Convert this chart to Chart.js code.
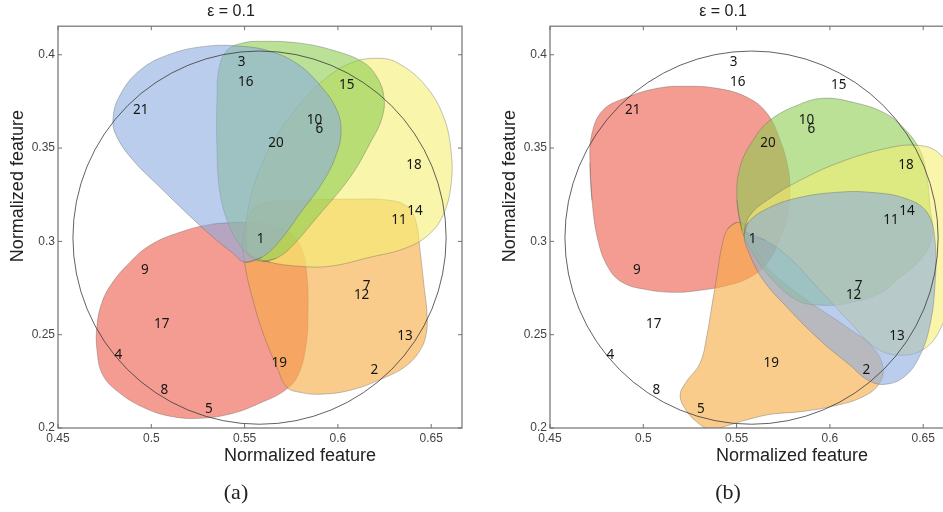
<!DOCTYPE html>
<html>
<head>
<meta charset="utf-8">
<script src="https://cdn.jsdelivr.net/npm/chart.js@4.4.1/dist/chart.umd.min.js"></script>
<style>
html, body { margin: 0; padding: 0; background: #fff; overflow: hidden; }
#wrap { position: relative; width: 943px; height: 512px; overflow: hidden; }
canvas { position: absolute; top: 0; }
#chartA { left: 0; }
#chartB { left: 492px; }
</style>
</head>
<body>
<div id="wrap">
  <canvas id="chartA" width="586" height="512"></canvas>
  <canvas id="chartB" width="584" height="512"></canvas>
</div>
<script>
// axis ticks
var xTicks = [0.45, 0.5, 0.55, 0.6, 0.65];
var xTickLabels = ['0.45', '0.5', '0.55', '0.6', '0.65'];
var yTicks = [0.2, 0.25, 0.3, 0.35, 0.4];
var yTickLabels = ['0.2', '0.25', '0.3', '0.35', '0.4'];

// numbered samples (same in both panels)
var pointNames = ['1','2','3','4','5','6','7','8','9','10','11','12','13','14','15','16','17','18','19','20','21'];
var pointX = [0.5586, 0.6195, 0.5484, 0.4823, 0.5309, 0.5900, 0.6154, 0.5070, 0.4966, 0.5874, 0.6327,
              0.6127, 0.6360, 0.6413, 0.6047, 0.5506, 0.5056, 0.6408, 0.5686, 0.5668, 0.4943];
var pointY = [0.3011, 0.2309, 0.3962, 0.2390, 0.2100, 0.3599, 0.2759, 0.2202, 0.2845, 0.3649, 0.3113,
              0.2711, 0.2491, 0.3161, 0.3837, 0.3854, 0.2556, 0.3408, 0.2345, 0.3524, 0.3703];

// reference circle
var circleCenter = [0.558, 0.302];
var circleRadius = 0.1;

// cluster outlines, panel (a)
var blueA = [[0.5502,0.2888],[0.5438,0.2936],[0.5331,0.3022],[0.5191,0.3150],[0.5047,0.3290],[0.4902,0.3435],
  [0.4811,0.3569],[0.4795,0.3660],[0.4832,0.3783],[0.4939,0.3917],[0.5100,0.4003],[0.5298,0.4046],[0.5475,0.4046],
  [0.5636,0.4019],[0.5786,0.3949],[0.5904,0.3837],[0.5990,0.3713],[0.6017,0.3595],[0.5990,0.3461],[0.5915,0.3311],
  [0.5797,0.3150],[0.5690,0.3005],[0.5593,0.2915]];
var greenA = [[0.5599,0.2893],[0.5529,0.2920],[0.5475,0.2979],[0.5416,0.3086],[0.5368,0.3258],[0.5352,0.3488],
  [0.5352,0.3756],[0.5363,0.3928],[0.5406,0.4024],[0.5486,0.4062],[0.5593,0.4072],[0.5797,0.4062],[0.5974,0.4024],
  [0.6135,0.3960],[0.6210,0.3879],[0.6247,0.3772],[0.6236,0.3660],[0.6172,0.3526],[0.6065,0.3343],[0.5888,0.3129],
  [0.5743,0.2963],[0.5668,0.2909]];
var yellowA = [[0.5529,0.2925],[0.5508,0.3059],[0.5529,0.3220],[0.5583,0.3392],[0.5663,0.3553],[0.5770,0.3703],
  [0.5904,0.3847],[0.6065,0.3954],[0.6226,0.3981],[0.6333,0.3949],[0.6467,0.3837],[0.6563,0.3676],[0.6606,0.3488],
  [0.6606,0.3301],[0.6563,0.3140],[0.6483,0.3033],[0.6360,0.2963],[0.6172,0.2915],[0.5958,0.2867],[0.5786,0.2867],
  [0.5636,0.2888]];
var orangeA = [[0.5593,0.3204],[0.5797,0.3220],[0.6065,0.3226],[0.6279,0.3220],[0.6376,0.3183],[0.6419,0.3102],
  [0.6440,0.2952],[0.6461,0.2765],[0.6478,0.2604],[0.6472,0.2497],[0.6440,0.2416],[0.6370,0.2336],[0.6242,0.2266],
  [0.6065,0.2202],[0.5904,0.2181],[0.5797,0.2191],[0.5727,0.2218],[0.5674,0.2325],[0.5599,0.2508],[0.5545,0.2684],
  [0.5502,0.2872],[0.5491,0.3006],[0.5508,0.3102],[0.5540,0.3167]];
var redA = [[0.5491,0.3102],[0.5636,0.3092],[0.5743,0.3049],[0.5808,0.2952],[0.5834,0.2818],[0.5840,0.2631],
  [0.5829,0.2443],[0.5786,0.2282],[0.5717,0.2202],[0.5593,0.2138],[0.5438,0.2079],[0.5261,0.2052],[0.5100,0.2063],
  [0.4956,0.2111],[0.4832,0.2186],[0.4741,0.2282],[0.4709,0.2416],[0.4709,0.2550],[0.4736,0.2674],[0.4789,0.2775],
  [0.4870,0.2872],[0.4993,0.2979],[0.5154,0.3049],[0.5325,0.3092]];

// cluster outlines, panel (b)
var blueB = [[0.5561,0.3102],[0.5679,0.3183],[0.5840,0.3236],[0.6038,0.3263],[0.6215,0.3263],[0.6402,0.3231],
  [0.6520,0.3156],[0.6563,0.3006],[0.6563,0.2765],[0.6536,0.2550],[0.6483,0.2390],[0.6402,0.2277],[0.6295,0.2234],
  [0.6204,0.2256],[0.6108,0.2336],[0.5947,0.2470],[0.5770,0.2647],[0.5636,0.2802],[0.5561,0.2952],[0.5540,0.3033]];
var greenB = [[0.5502,0.3220],[0.5518,0.3397],[0.5588,0.3542],[0.5679,0.3649],[0.5824,0.3729],[0.5963,0.3767],
  [0.6124,0.3745],[0.6285,0.3692],[0.6392,0.3611],[0.6483,0.3488],[0.6520,0.3343],[0.6536,0.3193],[0.6547,0.3022],
  [0.6483,0.2899],[0.6376,0.2808],[0.6268,0.2722],[0.6092,0.2668],[0.5947,0.2658],[0.5824,0.2684],[0.5695,0.2792],
  [0.5588,0.2936],[0.5529,0.3059]];
var yellowB = [[0.5550,0.3049],[0.5572,0.3140],[0.5679,0.3231],[0.5840,0.3327],[0.6054,0.3424],[0.6306,0.3499],
  [0.6467,0.3515],[0.6579,0.3477],[0.6654,0.3354],[0.6681,0.3059],[0.6654,0.2738],[0.6601,0.2550],[0.6510,0.2427],
  [0.6376,0.2390],[0.6242,0.2432],[0.6108,0.2566],[0.5947,0.2738],[0.5786,0.2909],[0.5652,0.3006]];
var orangeB = [[0.5502,0.3102],[0.5561,0.3070],[0.5588,0.2979],[0.5679,0.2845],[0.5856,0.2700],[0.6092,0.2540],
  [0.6231,0.2432],[0.6285,0.2320],[0.6258,0.2229],[0.6172,0.2165],[0.6038,0.2122],[0.5856,0.2089],[0.5679,0.2073],
  [0.5545,0.2041],[0.5438,0.2009],[0.5357,0.1993],[0.5288,0.2031],[0.5229,0.2095],[0.5197,0.2175],[0.5229,0.2245],
  [0.5304,0.2347],[0.5341,0.2497],[0.5368,0.2658],[0.5395,0.2818],[0.5422,0.2979],[0.5454,0.3070]];
var redB = [[0.4714,0.3419],[0.4725,0.3579],[0.4784,0.3703],[0.4913,0.3772],[0.5073,0.3820],[0.5213,0.3831],
  [0.5395,0.3820],[0.5556,0.3772],[0.5663,0.3686],[0.5733,0.3542],[0.5775,0.3397],[0.5786,0.3274],[0.5775,0.3151],
  [0.5733,0.3017],[0.5668,0.2888],[0.5572,0.2808],[0.5454,0.2765],[0.5304,0.2738],[0.5170,0.2727],[0.5009,0.2743],
  [0.4886,0.2781],[0.4811,0.2861],[0.4757,0.3006],[0.4725,0.3220]];

var colors = {
  blue: 'rgba(140,172,224,0.6)',
  green: 'rgba(140,205,80,0.6)',
  yellow: 'rgba(245,238,115,0.6)',
  orange: 'rgba(247,172,70,0.62)',
  red: 'rgba(238,96,78,0.62)'
};

Chart.defaults.font.family = '"Liberation Sans", Arial, sans-serif';

function toXY(arr) {
  return arr.map(function (p) { return {x: p[0], y: p[1]}; });
}

// repeat the last point in front and the first at the end so the curve closes smoothly
function closed(arr) {
  var pts = toXY(arr);
  return [pts[pts.length - 1]].concat(pts, [pts[0]]);
}

function blob(arr, color, order) {
  return {
    data: closed(arr),
    backgroundColor: color,
    borderColor: 'rgba(90,90,90,0.45)',
    borderWidth: 0.8,
    fill: 'shape',
    tension: 0.4,
    pointRadius: 0,
    order: order
  };
}

var decor = {
  id: 'decor',
  afterDatasetsDraw: function (chart, args, opts) {
    var ctx = chart.ctx, a = chart.chartArea, x = chart.scales.x, y = chart.scales.y;
    ctx.save();
    ctx.strokeStyle = '#707070';
    ctx.lineWidth = 1.2;
    ctx.strokeRect(a.left, a.top, a.right - a.left, a.bottom - a.top);
    ctx.lineWidth = 1;
    ctx.beginPath();
    x.ticks.forEach(function (t) {
      var px = x.getPixelForValue(t.value);
      ctx.moveTo(px, a.bottom); ctx.lineTo(px, a.bottom - 4);
      ctx.moveTo(px, a.top); ctx.lineTo(px, a.top + 4);
    });
    y.ticks.forEach(function (t) {
      var py = y.getPixelForValue(t.value);
      ctx.moveTo(a.left, py); ctx.lineTo(a.left + 4, py);
      ctx.moveTo(a.right, py); ctx.lineTo(a.right - 4, py);
    });
    ctx.stroke();

    // sample numbers
    ctx.fillStyle = '#161616';
    ctx.font = '13.5px "Noto Sans", "Open Sans", sans-serif';
    ctx.textAlign = 'center';
    ctx.textBaseline = 'middle';
    chart.getDatasetMeta(0).data.forEach(function (pt, i) {
      ctx.fillText(pointNames[i], pt.x, pt.y);
    });

    // axis titles and panel letter
    var cx = (a.left + a.right) / 2, cy = (a.top + a.bottom) / 2;
    ctx.fillStyle = '#222';
    ctx.font = '18px "Liberation Sans", Arial, sans-serif';
    ctx.fillText('Normalized feature', cx + 40, a.bottom + 28);
    ctx.save();
    ctx.translate(a.left - 40, cy - 41);
    ctx.rotate(-Math.PI / 2);
    ctx.fillText('Normalized feature', 0, 0);
    ctx.restore();
    ctx.font = '22px "Liberation Serif", "Times New Roman", serif';
    ctx.fillText(opts.letter, cx - 24, a.bottom + 65);
    ctx.restore();
  }
};

function makePanel(id, blobs, letter, padRight) {
  var datasets = [
    {
      data: pointX.map(function (v, i) { return {x: v, y: pointY[i]}; }),
      showLine: false,
      pointRadius: 0,
      order: 0
    },
    {
      data: [{x: circleCenter[0], y: circleCenter[1]}],
      showLine: false,
      pointRadius: function (c) {
        var s = c.chart.scales.x;
        return s.getPixelForValue(circleCenter[0] + circleRadius) - s.getPixelForValue(circleCenter[0]);
      },
      pointBackgroundColor: 'rgba(0,0,0,0)',
      pointBorderColor: '#3a3a3a',
      pointBorderWidth: 0.8,
      order: 1
    }
  ].concat(blobs);

  return new Chart(document.getElementById(id), {
    type: 'line',
    data: {datasets: datasets},
    options: {
      responsive: false,
      devicePixelRatio: 1,
      animation: false,
      events: [],
      layout: {padding: {left: 0, right: padRight, top: 0, bottom: 0}},
      elements: {line: {capBezierPoints: false}},
      scales: {
        x: {
          type: 'linear',
          min: 0.45,
          max: 0.6665,
          afterBuildTicks: function (s) { s.ticks = xTicks.map(function (v) { return {value: v}; }); },
          afterFit: function (s) { s.height = 84; },
          grid: {display: false, drawTicks: false},
          border: {display: false},
          ticks: {
            padding: 3,
            color: '#444',
            font: {size: 12},
            maxRotation: 0,
            autoSkip: false,
            callback: function (v, i) { return xTickLabels[i]; }
          }
        },
        y: {
          type: 'linear',
          min: 0.2,
          max: 0.4153,
          afterBuildTicks: function (s) { s.ticks = yTicks.map(function (v) { return {value: v}; }); },
          afterFit: function (s) { s.width = 58; },
          grid: {display: false, drawTicks: false},
          border: {display: false},
          ticks: {
            padding: 3,
            color: '#444',
            font: {size: 12},
            autoSkip: false,
            callback: function (v, i) { return yTickLabels[i]; }
          }
        }
      },
      plugins: {
        legend: {display: false},
        tooltip: {enabled: false},
        title: {
          display: true,
          text: 'ε = 0.1',
          color: '#222',
          font: {size: 16, weight: 'normal'},
          padding: {top: 2, bottom: 5}
        },
        decor: {letter: letter}
      }
    },
    plugins: [decor]
  });
}

makePanel('chartA', [
  blob(blueA, colors.blue, 2),
  blob(greenA, colors.green, 3),
  blob(yellowA, colors.yellow, 4),
  blob(orangeA, colors.orange, 5),
  blob(redA, colors.red, 6)
], '(a)', 124);

makePanel('chartB', [
  blob(blueB, colors.blue, 2),
  blob(yellowB, colors.yellow, 3),
  blob(greenB, colors.green, 4),
  blob(orangeB, colors.orange, 5),
  blob(redB, colors.red, 6)
], '(b)', 122);
</script>
</body>
</html>
